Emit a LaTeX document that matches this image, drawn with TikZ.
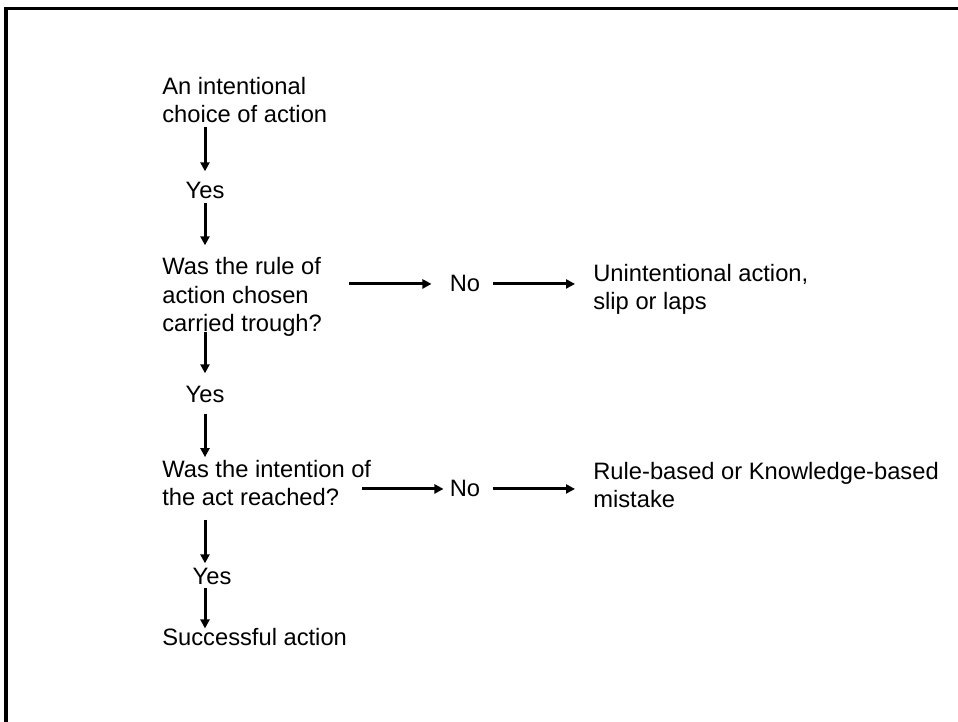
\documentclass[tikz,border=0pt]{standalone}
\usepackage{fontspec}
\setmainfont{Liberation Sans}
\usetikzlibrary{arrows.meta}

\tikzset{
  txt/.style={inner sep=0pt, anchor=base west, align=left, font=\fontsize{13.5}{16.4}\selectfont},
  ans/.style={inner sep=0pt, anchor=base, font=\fontsize{13.5}{16.4}\selectfont},
  arr/.style={line width=0.06cm, -{Triangle[length=0.18cm,width=0.18cm]}}
}

\begin{document}
\begin{tikzpicture}[x=0.02cm, y=-0.02cm]
        \useasboundingbox (0,0) rectangle (958,722);
        \draw[line width=0.065cm] (6,722) -- (6,8.5) -- (958,8.5);

        \node[txt] (choice) at (162,123) {An intentional\\choice of action};
        \node[ans] (yes1) at (205,199) {Yes};
        \node[txt] (rule) at (162,332) {Was the rule of\\action chosen\\carried trough?};
        \node[ans] (no1) at (465,292) {No};
        \node[txt] (slip) at (593,310) {Unintentional action,\\slip or laps};
        \node[ans] (yes2) at (205,403) {Yes};
        \node[txt] (reach) at (162,506) {Was the intention of\\the act reached?};
        \node[ans] (no2) at (465,497) {No};
        \node[txt] (mistake) at (593,508) {Rule-based or Knowledge-based\\mistake};
        \node[ans] (yes3) at (212,585) {Yes};
        \node[txt] (success) at (162,646) {Successful action};

        \draw[arr] ([yshift=-0.06cm]choice.south -| yes1) -- ([yshift=0.22cm]yes1.north);
        \draw[arr] ([yshift=-0.06cm]yes1.south) -- ([yshift=0.23cm]rule.north -| yes1);
        \draw[arr] ([yshift=0.1cm]rule.south -| yes1) -- ([yshift=0.26cm]yes2.north);
        \draw[arr] ([yshift=-0.2cm]yes2.south) -- ([yshift=0.05cm]reach.north -| yes1);
        \draw[arr] ([yshift=-0.26cm]reach.south -| yes1) -- ([yshift=0.1cm]yes3.north -| yes1);
        \draw[arr] ([yshift=-0.04cm]yes3.south -| yes1) -- (success.north -| yes1);

        \draw[arr] ([xshift=0.54cm]rule.east |- no1.west) -- ([xshift=-0.36cm]no1.west);
        \draw[arr] ([xshift=0.25cm]no1.east) -- ([xshift=-0.36cm]slip.west |- no1.east);
        \draw[arr] ([xshift=-0.18cm]reach.east |- no2.west) -- ([xshift=-0.12cm]no2.west);
        \draw[arr] ([xshift=0.24cm]no2.east) -- ([xshift=-0.36cm]mistake.west |- no2.east);
\end{tikzpicture}
\end{document}
